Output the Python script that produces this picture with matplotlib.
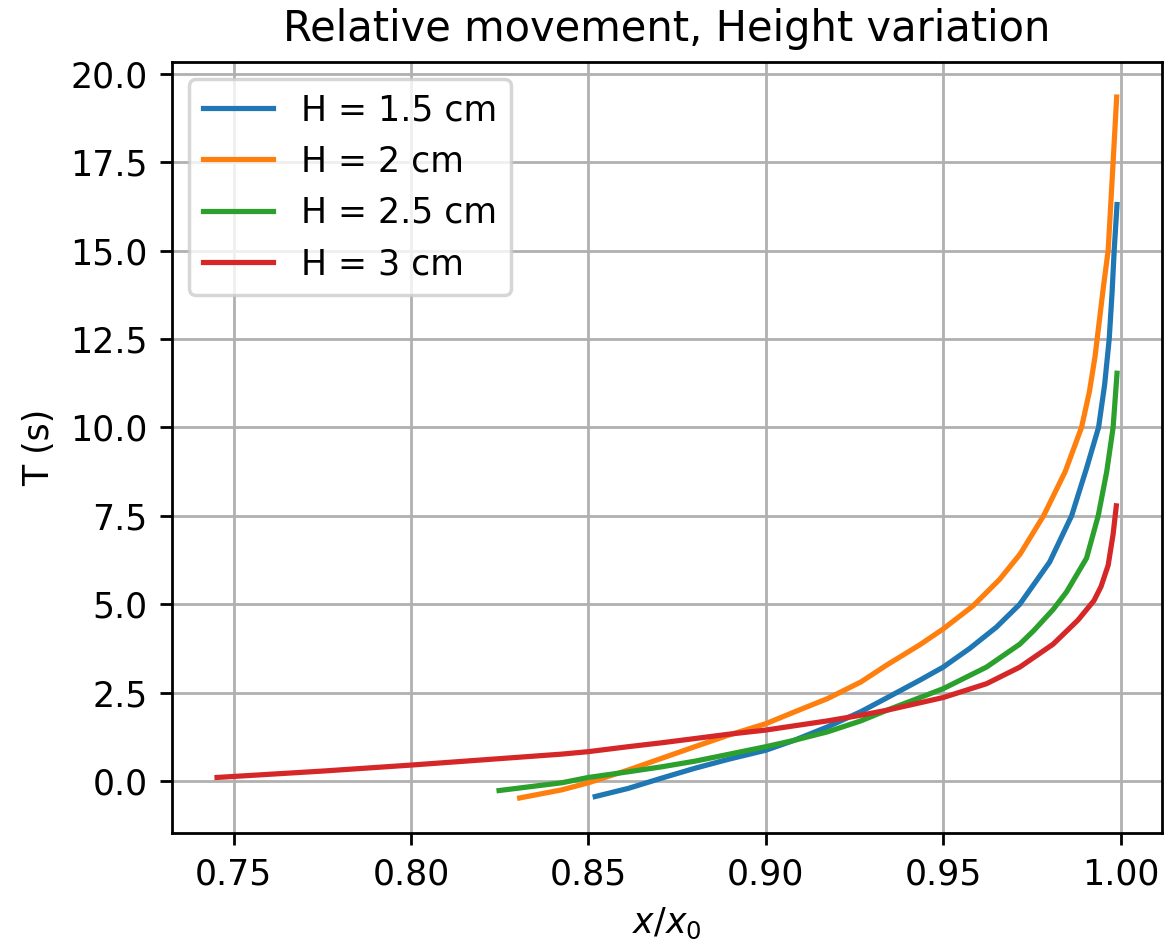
import matplotlib
matplotlib.use("Agg")
import matplotlib.pyplot as plt

# values
labels = ["H = 1.5 cm", "H = 2 cm", "H = 2.5 cm", "H = 3 cm"]

x_h15 = [0.8519, 0.8612, 0.8706, 0.8800, 0.8893, 0.9000, 0.9080, 0.9174,
         0.9268, 0.9341, 0.9434, 0.9500, 0.9575, 0.9650, 0.9716, 0.9800,
         0.9862, 0.9904, 0.9938, 0.9955, 0.9968, 0.9976, 0.9982, 0.9990]
t_h15 = [-0.44, -0.21, 0.08, 0.36, 0.61, 0.87, 1.15, 1.53,
         1.96, 2.35, 2.85, 3.22, 3.75, 4.35, 5.00, 6.19,
         7.50, 8.84, 10.00, 11.20, 12.50, 13.80, 15.00, 16.30]

x_h2 = [0.8306, 0.8425, 0.8500, 0.8612, 0.8706, 0.8800, 0.8893, 0.9000,
        0.9080, 0.9174, 0.9268, 0.9341, 0.9434, 0.9500, 0.9584, 0.9659,
        0.9717, 0.9783, 0.9844, 0.9890, 0.9912, 0.9928, 0.9940, 0.9952,
        0.9965, 0.9979, 0.9989]
t_h2 = [-0.48, -0.25, -0.05, 0.31, 0.64, 0.97, 1.29, 1.62,
        1.95, 2.33, 2.80, 3.28, 3.85, 4.30, 4.95, 5.70,
        6.42, 7.50, 8.75, 10.00, 11.00, 12.00, 13.00, 14.00,
        15.00, 17.50, 19.34]

x_h25 = [0.8248, 0.8425, 0.8500, 0.8612, 0.8706, 0.8800, 0.8893, 0.9000,
         0.9080, 0.9174, 0.9268, 0.9341, 0.9500, 0.9622, 0.9716, 0.9755,
         0.9810, 0.9848, 0.9904, 0.9937, 0.9961, 0.9979, 0.9990]
t_h25 = [-0.27, -0.05, 0.10, 0.26, 0.40, 0.56, 0.75, 0.97,
         1.15, 1.39, 1.70, 2.00, 2.61, 3.22, 3.87, 4.25,
         4.85, 5.35, 6.30, 7.50, 8.75, 10.00, 11.53]

x_h3 = [0.7453, 0.7750, 0.8000, 0.8425, 0.8500, 0.8612, 0.8706, 0.8800,
        0.8893, 0.9000, 0.9080, 0.9174, 0.9268, 0.9341, 0.9500, 0.9622,
        0.9716, 0.9810, 0.9880, 0.9925, 0.9945, 0.9965, 0.9979, 0.9988]
t_h3 = [0.10, 0.28, 0.45, 0.76, 0.83, 0.97, 1.08, 1.20,
        1.32, 1.44, 1.56, 1.70, 1.86, 2.00, 2.36, 2.75,
        3.22, 3.87, 4.55, 5.10, 5.50, 6.10, 6.98, 7.78]

fig = plt.figure(figsize=(4.656, 3.768), dpi=250)
ax = fig.add_axes([0.1478, 0.1157, 0.8505, 0.8185])

ax.plot(x_h15, t_h15, label=labels[0])
ax.plot(x_h2, t_h2, label=labels[1])
ax.plot(x_h25, t_h25, label=labels[2])
ax.plot(x_h3, t_h3, label=labels[3])

ax.set_title("Relative movement, Height variation")
ax.set_xlabel("$x/x_0$")
ax.set_ylabel("T (s)")
ax.grid(True)
ax.legend(loc="upper left")

fig.savefig("out.png", dpi=250)
